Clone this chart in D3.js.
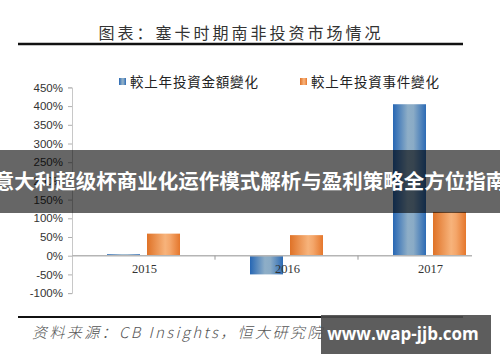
<!doctype html>
<html lang="zh">
<head>
<meta charset="UTF-8">
<title>塞卡时期南非投资市场情况</title>
<style>
  html, body { margin: 0; padding: 0; background: #fff; }
  svg { display: block; }
</style>
</head>
<body>
<div class="container"></div>
<script src="https://d3js.org/d3.v7.min.js"></script>
<script>
  // data
  const categories = ['2015', '2016', '2017'];
  const seriesNames = ['較上年投資金額變化', '較上年投資事件變化'];
  const amountChange = [4, -50, 405];
  const eventChange = [59, 55, 117];
  const yTicks = [-100, -50, 0, 50, 100, 150, 200, 250, 300, 350, 400, 450];

  const W = 500, H = 362;
  const svg = d3.select('.container').append('svg')
    .attr('width', W).attr('height', H);

  const defs = svg.append('defs');
  function grad(id, stops) {
    const g = defs.append('linearGradient').attr('id', id)
      .attr('x1', '0%').attr('x2', '100%').attr('y1', '0%').attr('y2', '0%');
    stops.forEach(s => g.append('stop').attr('offset', s[0]).attr('stop-color', s[1]));
  }
  grad('gBlue', [['0%', '#2767b4'], ['45%', '#8eaec7'], ['62%', '#8aabc6'], ['100%', '#2c6bb5']]);
  grad('gOrange', [['0%', '#df7227'], ['55%', '#f7b37b'], ['70%', '#f4a66a'], ['100%', '#e5772c']]);
  const fills = ['url(#gBlue)', 'url(#gOrange)'];

  // title
  svg.append('text')
    .attr('x', 241).attr('y', 39)
    .attr('text-anchor', 'middle')
    .attr('font-family', '"Noto Sans CJK SC", sans-serif')
    .attr('font-weight', 400)
    .attr('font-size', 16)
    .attr('letter-spacing', 3)
    .attr('fill', '#333')
    .text('图表：塞卡时期南非投资市场情况');
  svg.append('line')
    .attr('x1', 18).attr('x2', 463).attr('y1', 44).attr('y2', 44)
    .attr('stroke', '#111').attr('stroke-width', 2.4);

  // scales
  const y = d3.scaleLinear().domain([-100, 450]).range([293.1, 87.4]);
  const x = d3.scaleBand().domain(categories).range([72, 501]);
  const xs = d3.scaleBand().domain([0, 1]).range([-36.5, 36.5]).paddingInner(0.175);

  // y axis
  const yAxis = d3.axisLeft(y).tickValues(yTicks).tickSize(4).tickPadding(5)
    .tickFormat(d => d + '%');
  const yg = svg.append('g').attr('transform', 'translate(72,0)').call(yAxis);
  yg.select('.domain').attr('stroke', '#c8c8c8');
  yg.selectAll('.tick line').attr('stroke', '#b0b0b0');
  yg.selectAll('.tick text')
    .attr('fill', '#333')
    .attr('font-family', '"Liberation Sans", Arial, sans-serif')
    .attr('font-size', 11.5);

  // bars
  const series = [amountChange, eventChange];
  series.forEach((vals, si) => {
    svg.append('g').selectAll('rect')
      .data(vals)
      .join('rect')
      .attr('x', (d, i) => x(categories[i]) + x.bandwidth() / 2 + xs(si))
      .attr('width', xs.bandwidth())
      .attr('y', d => y(Math.max(0, d)))
      .attr('height', d => Math.abs(y(d) - y(0)))
      .attr('fill', fills[si]);
  });

  // x axis baseline
  svg.append('line')
    .attr('x1', 72).attr('x2', 472).attr('y1', y(0)).attr('y2', y(0))
    .attr('stroke', '#b5b5b5').attr('stroke-width', 1.5);
  svg.append('g').selectAll('line')
    .data(categories.slice(1))
    .join('line')
    .attr('x1', d => x(d)).attr('x2', d => x(d))
    .attr('y1', y(0)).attr('y2', y(0) + 4)
    .attr('stroke', '#999');
  svg.append('g').selectAll('text')
    .data(categories)
    .join('text')
    .attr('x', d => x(d) + x.bandwidth() / 2 + 1)
    .attr('y', 273)
    .attr('text-anchor', 'middle')
    .attr('font-family', '"Liberation Serif", serif')
    .attr('font-size', 12.5)
    .attr('fill', '#333')
    .text(d => d);

  // legend
  const legendX = [119, 300];
  const lg = svg.append('g').selectAll('g')
    .data(seriesNames)
    .join('g')
    .attr('transform', (d, i) => `translate(${legendX[i]},78)`);
  lg.append('rect').attr('width', 7).attr('height', 7)
    .attr('fill', (d, i) => fills[i]);
  lg.append('text')
    .attr('x', 11).attr('y', 9)
    .attr('font-family', '"Noto Sans CJK TC", sans-serif')
    .attr('font-size', 13.5)
    .attr('letter-spacing', 0.8)
    .attr('fill', '#222')
    .text(d => d);

  // footer
  svg.append('line')
    .attr('x1', 18).attr('x2', 463).attr('y1', 317).attr('y2', 317)
    .attr('stroke', '#111').attr('stroke-width', 2);
  svg.append('text')
    .attr('x', 32).attr('y', 338)
    .attr('font-family', '"Noto Sans CJK SC", sans-serif')
    .attr('font-weight', 300)
    .attr('font-style', 'italic')
    .attr('font-size', 15)
    .attr('letter-spacing', 2.4)
    .attr('fill', '#555')
    .text('资料来源：CB Insights，恒大研究院');

  // overlay banner
  svg.append('rect')
    .attr('x', 0).attr('y', 150).attr('width', W).attr('height', 63)
    .attr('fill', 'rgba(0,0,0,0.6)');
  svg.append('text')
    .attr('x', 250).attr('y', 189)
    .attr('text-anchor', 'middle')
    .attr('font-family', '"Noto Sans CJK SC", sans-serif')
    .attr('font-weight', 700)
    .attr('font-size', 20.5)
    .attr('fill', '#fff')
    .text('意大利超级杯商业化运作模式解析与盈利策略全方位指南');

  // watermark box
  svg.append('rect')
    .attr('x', 321).attr('y', 315).attr('width', 170).attr('height', 39)
    .attr('fill', 'rgba(75,75,75,0.9)');
  svg.append('text')
    .attr('x', 403).attr('y', 340)
    .attr('text-anchor', 'middle')
    .attr('font-family', '"Open Sans", "DejaVu Sans", sans-serif')
    .attr('font-weight', 700)
    .attr('font-size', 17)
    .attr('fill', '#fff')
    .text('www.wap-jjb.com');
</script>
</body>
</html>
